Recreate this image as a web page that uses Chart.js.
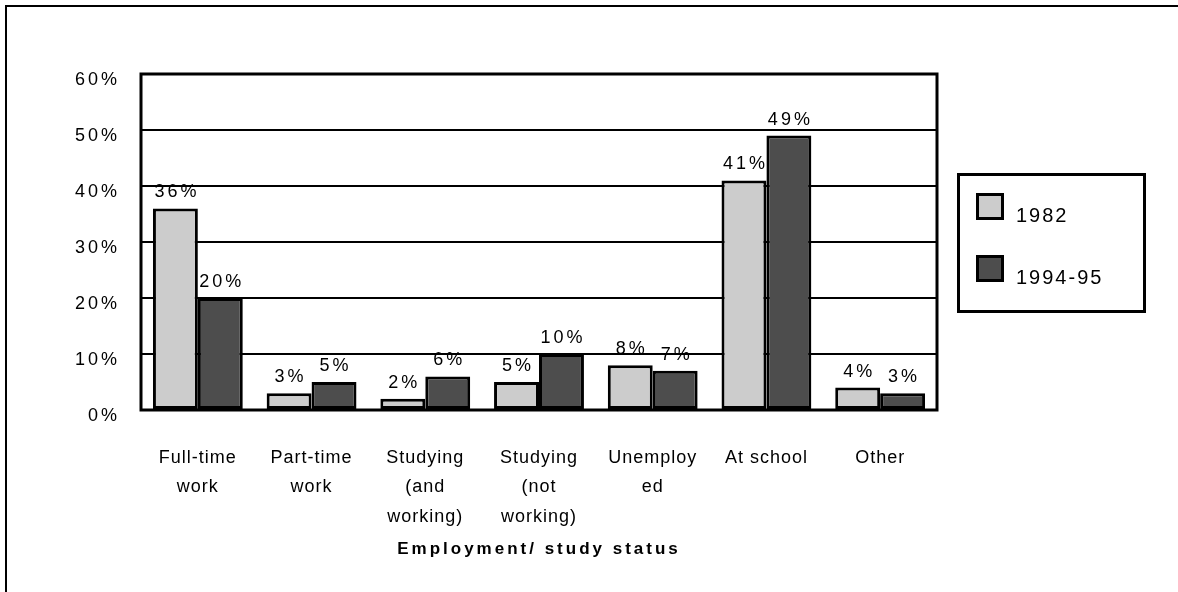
<!DOCTYPE html>
<html>
<head>
<meta charset="utf-8">
<title>Employment / study status</title>
<script src="https://cdn.jsdelivr.net/npm/chart.js@4.4.1/dist/chart.umd.min.js"></script>
<style>
    body { margin: 0; background: #fff; }
    canvas { display: block; }
</style>
</head>
<body>
<canvas id="grafico" width="1178" height="592"></canvas>
<script>
const categorias = [
    ['Full-time', 'work'],
    ['Part-time', 'work'],
    ['Studying', '(and', 'working)'],
    ['Studying', '(not', 'working)'],
    ['Unemploy', 'ed'],
    'At school',
    'Other'
]
const anos = ['1982', '1994-95']
const valores1982 = [36, 3, 2, 5, 8, 41, 4]
const valores1994 = [20, 5, 6, 10, 7, 49, 3]
const eixoY = [0, 10, 20, 30, 40, 50, 60]

const fonte = '"Liberation Sans", Arial, sans-serif'
Chart.defaults.font.family = fonte
Chart.defaults.color = '#000'

// the canvas has no letter-spacing option in Chart.js, so it is set on the context
// between the drawing phases: y ticks + axis title, bar labels, x ticks, legend
const desenho = {
    id: 'desenho',
    beforeDraw(chart) {
        chart.ctx.letterSpacing = '3px'
    },
    afterDatasetsDraw(chart) {
        const ctx = chart.ctx
        const area = chart.chartArea

        // thick frame round the plot area
        ctx.save()
        ctx.strokeStyle = '#000'
        ctx.lineWidth = 3
        ctx.strokeRect(area.left, area.top, area.right - area.left, area.bottom - area.top)
        ctx.restore()

        // value above every bar
        ctx.save()
        ctx.letterSpacing = '3px'
        ctx.font = '18px ' + fonte
        ctx.fillStyle = '#000'
        ctx.textAlign = 'center'
        ctx.textBaseline = 'middle'
        chart.data.datasets.forEach((ds, i) => {
            chart.getDatasetMeta(i).data.forEach((barra, j) => {
                ctx.fillText(ds.data[j] + '%', barra.x + 1.5, barra.y - 16)
            })
        })
        ctx.restore()

        ctx.letterSpacing = '1px'
    },
    afterDraw(chart) {
        const ctx = chart.ctx
        const area = chart.chartArea
        ctx.save()

        // outer frame (top and left edges)
        ctx.fillStyle = '#000'
        ctx.fillRect(5, 5, chart.width - 5, 2)
        ctx.fillRect(5, 5, 2, chart.height - 5)

        // legend box
        const x0 = area.right + 20
        const y0 = 173
        ctx.lineWidth = 3
        ctx.strokeStyle = '#000'
        ctx.strokeRect(x0 + 1.5, y0 + 1.5, 186, 137)

        ctx.letterSpacing = '2px'
        ctx.font = '20px ' + fonte
        ctx.textAlign = 'left'
        ctx.textBaseline = 'middle'
        chart.data.datasets.forEach((ds, i) => {
            const y = y0 + 20 + i * 62
            ctx.fillStyle = ds.backgroundColor
            ctx.fillRect(x0 + 19, y, 28, 27)
            ctx.strokeRect(x0 + 20.5, y + 1.5, 25, 24)
            ctx.fillStyle = '#000'
            ctx.fillText(ds.label, x0 + 59, y + 23)
        })
        ctx.restore()
    }
}

const data = {
    labels: categorias,
    datasets: [{
        label: anos[0],
        data: valores1982,
        backgroundColor: '#cccccc',
        borderColor: '#000',
        borderWidth: 3,
        borderSkipped: false
    }, {
        label: anos[1],
        data: valores1994,
        backgroundColor: '#4d4d4d',
        borderColor: '#000',
        borderWidth: 3,
        borderSkipped: false
    }]
}

const config = {
    type: 'bar',
    data: data,
    plugins: [desenho],
    options: {
        responsive: false,
        animation: false,
        layout: {
            padding: { left: 0, top: 74, right: 241, bottom: 0 }
        },
        datasets: {
            bar: {
                categoryPercentage: 0.79,
                barPercentage: 1
            }
        },
        plugins: {
            legend: { display: false },
            tooltip: { enabled: false }
        },
        scales: {
            x: {
                afterFit(axis) { axis.height = 182 },
                grid: { display: false },
                border: { display: false },
                ticks: {
                    z: 1,
                    maxRotation: 0,
                    autoSkip: false,
                    padding: 25,
                    color: '#000',
                    font: { size: 18, lineHeight: '29.5px' }
                },
                title: {
                    display: true,
                    text: 'Employment/ study status',
                    color: '#000',
                    font: { size: 17, weight: 'bold', lineHeight: '17px' },
                    padding: { top: 0, bottom: 34.5 }
                }
            },
            y: {
                afterFit(axis) { axis.width = 141 },
                min: eixoY[0],
                max: eixoY[eixoY.length - 1],
                afterBuildTicks(axis) {
                    axis.ticks = eixoY.map(v => ({ value: v }))
                },
                grid: {
                    color: '#000',
                    lineWidth: 2,
                    drawTicks: false
                },
                border: { display: false },
                ticks: {
                    padding: 21,
                    labelOffset: 6,
                    color: '#000',
                    font: { size: 18 },
                    callback: v => v + '%'
                }
            }
        }
    }
}

const grafico = new Chart(document.getElementById('grafico'), config)
</script>
</body>
</html>
